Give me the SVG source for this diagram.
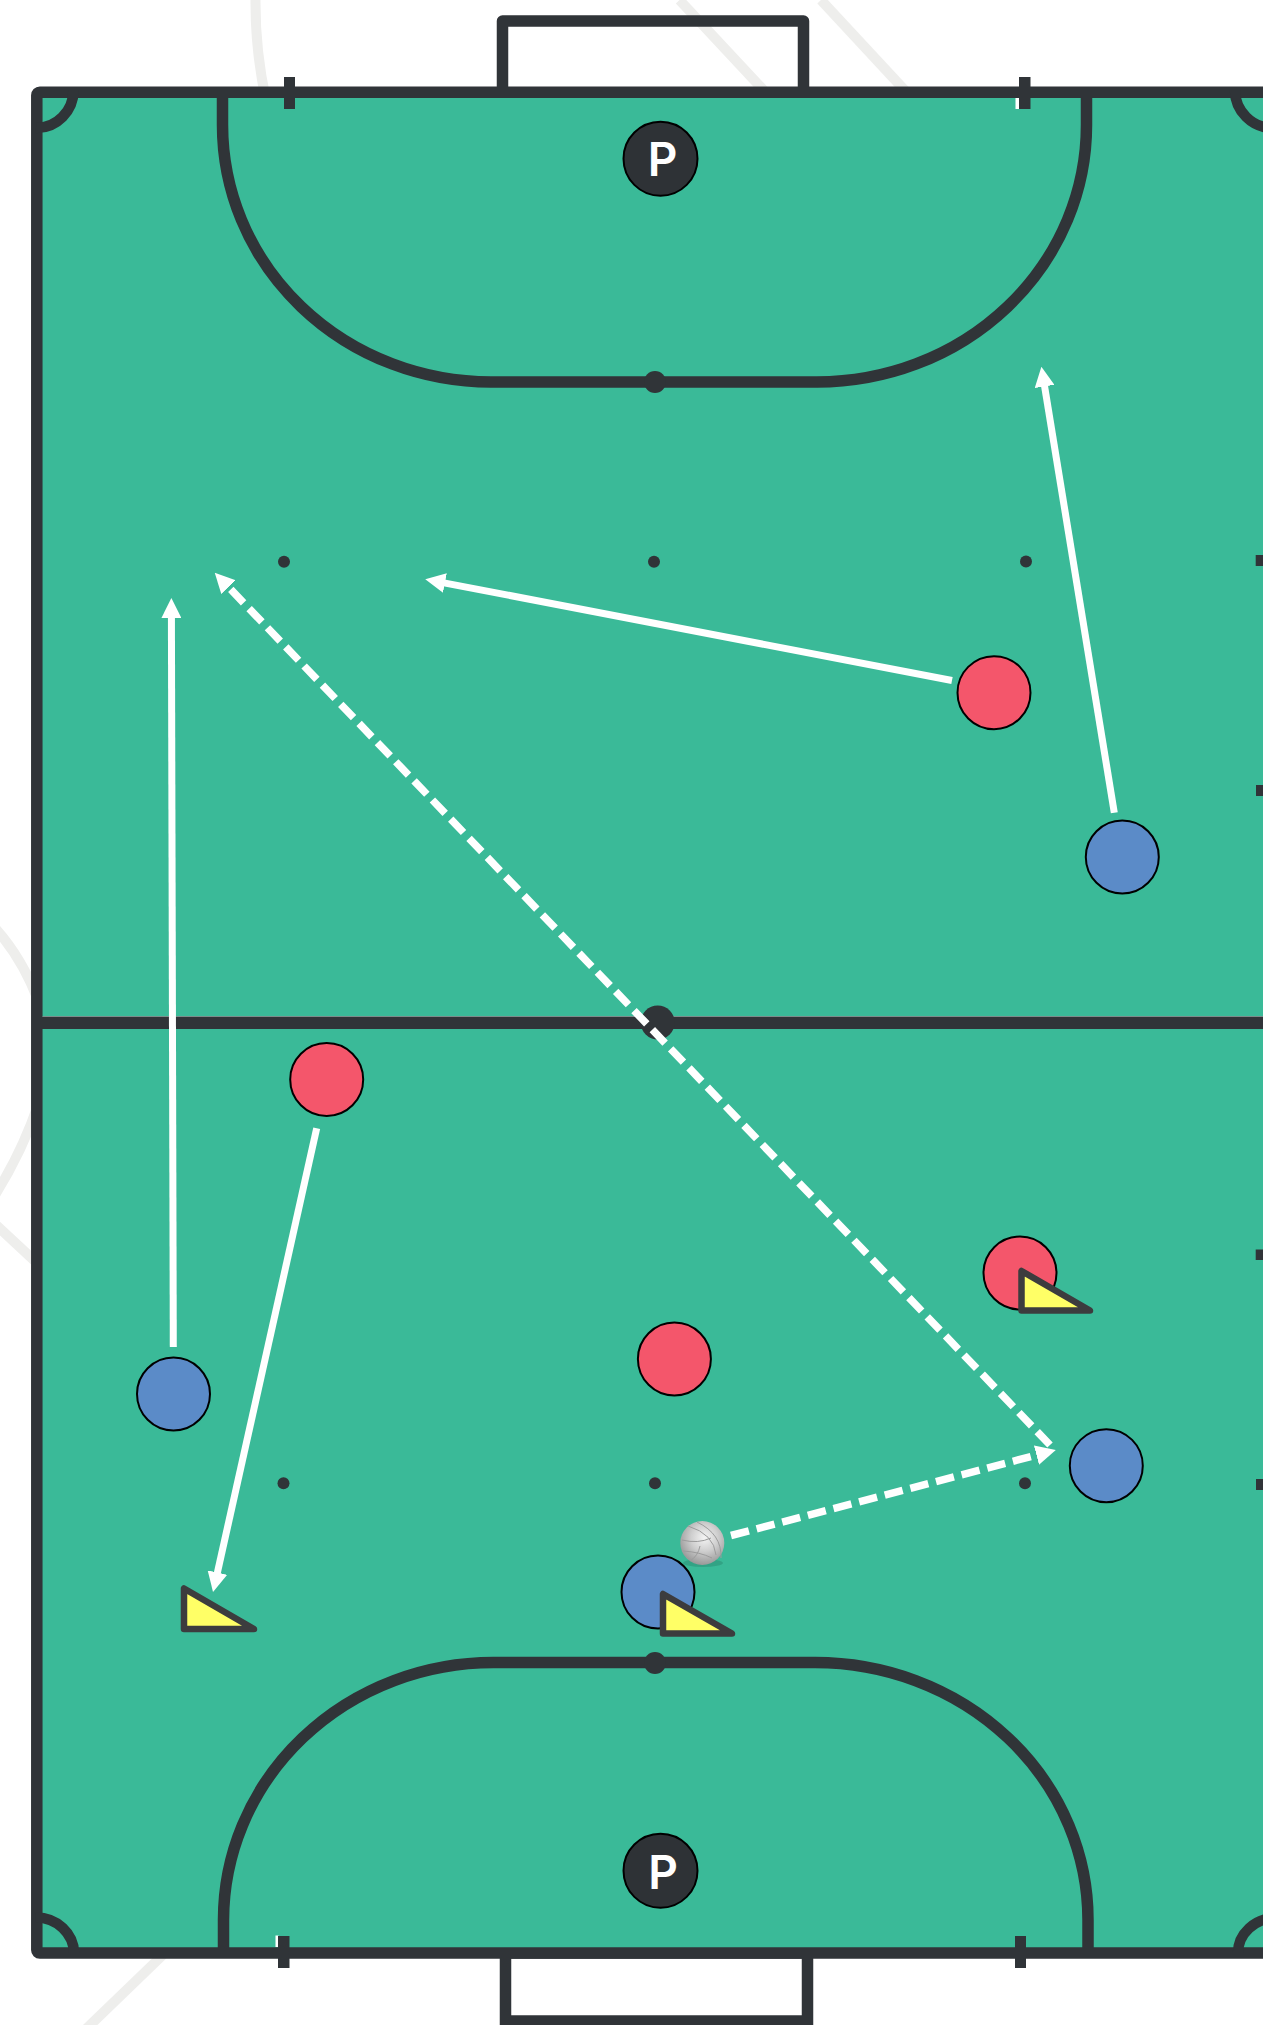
<svg xmlns="http://www.w3.org/2000/svg" width="1263" height="2025" viewBox="0 0 1263 2025">
<style>
.wm{fill:none;stroke:#eeeeec;stroke-width:10}
.ln{fill:none;stroke:#303438;stroke-width:11.5}
.mid{fill:none;stroke:#303438;stroke-width:12.5}
.arc{fill:none;stroke:#303438;stroke-width:10.5}
.dk{fill:#303438}
.red{fill:#f4566b;stroke:#000;stroke-width:2}
.blue{fill:#5b8bc8;stroke:#000;stroke-width:2}
.pc{fill:#2e3236;stroke:#000;stroke-width:2}
.pt{fill:#fff;font-family:Inter,"Noto Sans",sans-serif;font-weight:600;font-size:46px;text-anchor:middle}
.tri{fill:#ffff66;stroke:#3c3c3e;stroke-width:6.5;stroke-linejoin:round}
.mv{fill:none;stroke:#fff;stroke-width:7}
.ds{fill:none;stroke:#fff;stroke-width:7.5;stroke-dasharray:18.5 8}
.bl{fill:none;stroke:#9c9c9c;stroke-width:1}
</style>
<defs>
<marker id="head" viewBox="0 0 20 20" refX="5" refY="10" markerWidth="20" markerHeight="20" markerUnits="userSpaceOnUse" orient="auto"><path d="M0 0L20 10L0 20Z" fill="#fff"/></marker>
<radialGradient id="ballg" cx="0.55" cy="0.38" r="0.68"><stop offset="0" stop-color="#f4f4f4"/><stop offset="0.45" stop-color="#cfcfcf"/><stop offset="1" stop-color="#8e8e8e"/></radialGradient>
</defs>
<rect width="1263" height="2025" fill="#fff"/>
<g id="watermark">
<path class="wm" d="M255.5-2Q255 50 266 100"/>
<path class="wm" d="M679.5 0L770 97"/>
<path class="wm" d="M821 0L911 97"/>
<path class="wm" d="M-5 928Q22 958 38 1000"/>
<path class="wm" d="M38 1105Q22 1152-5 1195"/>
<path class="wm" d="M-5 1224L38 1264"/>
<path class="wm" d="M170 1948L85 2030"/>
</g>
<g id="goal-top"><path class="ln" d="M502.5 92V21H803.5V92" stroke-linejoin="round"/></g>
<g id="goal-bottom"><rect x="505.5" y="1953" width="302" height="68" class="ln"/></g>
<g id="pitch">
<rect x="36.8" y="92.3" width="1240" height="1860.7" rx="3" fill="#3aba98" stroke="#303438" stroke-width="11.5"/>
<rect x="42.5" y="1016" width="1221" height="1" fill="#c4e9df"/>
<path class="mid" d="M37 1022.7H1263"/>
<path class="ln" d="M222.5 92V125A268.5 257 0 0 0 491 382H817A269.5 257 0 0 0 1086.5 125V92"/>
<path class="ln" d="M223.5 1953V1920A270 257.5 0 0 1 493.5 1662.5H815A273 257.5 0 0 1 1088 1920V1953"/>
<path class="arc" d="M73.5 90A37 38 0 0 1 36 128"/>
<path class="arc" d="M1235 90A38 38 0 0 0 1273 128"/>
<path class="arc" d="M36 1917.5A38 36 0 0 1 74 1953"/>
<path class="arc" d="M1238 1953A38 35 0 0 1 1276 1918"/>
<rect x="1015.5" y="98" width="4" height="11" fill="#fff"/>
<rect x="275.5" y="1935.5" width="3" height="11.5" fill="#fff"/>
<rect class="dk" x="284" y="77" width="11" height="32"/>
<rect class="dk" x="1019" y="77" width="11.5" height="32"/>
<rect class="dk" x="278" y="1936" width="11.5" height="32"/>
<rect class="dk" x="1015" y="1936" width="11" height="32"/>
<circle class="dk" cx="284" cy="561.7" r="6"/>
<circle class="dk" cx="654" cy="561.7" r="6"/>
<circle class="dk" cx="1026" cy="561.5" r="6"/>
<circle class="dk" cx="283.5" cy="1483.3" r="6"/>
<circle class="dk" cx="655" cy="1483.3" r="6"/>
<circle class="dk" cx="1025" cy="1483.3" r="6"/>
<rect class="dk" x="1255.7" y="555" width="8" height="11"/>
<rect class="dk" x="1256" y="785" width="8" height="11"/>
<rect class="dk" x="1255.7" y="1249.5" width="8" height="10.5"/>
<rect class="dk" x="1256" y="1479" width="8" height="11"/>
<circle class="dk" cx="655" cy="382" r="11"/>
<circle class="dk" cx="655" cy="1663" r="11"/>
<circle class="dk" cx="657.7" cy="1022.5" r="17"/>
</g>
<g id="keeper-top"><circle class="pc" cx="660.5" cy="158.7" r="37"/><text class="pt" x="662.5" y="176">P</text></g>
<g id="keeper-bottom"><circle class="pc" cx="660.5" cy="1870.7" r="37"/><text class="pt" x="663" y="1889">P</text></g>
<g id="connectors">
<path class="mv" marker-end="url(#head)" d="M173.3 1347L171.4 613"/>
<path class="mv" marker-end="url(#head)" d="M952 680.5L440 582.1"/>
<path class="mv" marker-end="url(#head)" d="M1114.3 812.7L1043.8 381.5"/>
<path class="mv" marker-end="url(#head)" d="M316.7 1128.3L216.3 1577.4"/>
<path class="ds" marker-end="url(#head)" d="M1050 1445L225.1 583.5"/>
<path class="ds" marker-end="url(#head)" d="M731 1535.5L1041.3 1453.8"/>
</g>
<g id="player-red-1"><circle class="red" cx="994" cy="692.7" r="36.5"/></g>
<g id="player-blue-1"><circle class="blue" cx="1122.3" cy="857" r="36.5"/></g>
<g id="player-red-2"><circle class="red" cx="326.7" cy="1079.5" r="36.5"/></g>
<g id="player-blue-2"><circle class="blue" cx="173.5" cy="1394" r="36.5"/></g>
<g id="player-red-3"><circle class="red" cx="674.4" cy="1359" r="36.5"/></g>
<g id="player-red-4"><circle class="red" cx="1020" cy="1273" r="36.5"/></g>
<g id="player-blue-3"><circle class="blue" cx="1106.3" cy="1465.7" r="36.5"/></g>
<g id="player-blue-4"><circle class="blue" cx="658" cy="1592" r="36.5"/></g>
<g id="cone-1"><path class="tri" d="M1021.5 1271V1310.5H1090Z"/></g>
<g id="cone-2"><path class="tri" d="M663 1594V1633.5H732Z"/></g>
<g id="cone-3"><path class="tri" d="M184 1588.5V1629H254Z"/></g>
<g id="ball">
<ellipse cx="703" cy="1563" rx="20" ry="4" fill="#2f9a7e" opacity="0.7"/>
<circle cx="702.3" cy="1543" r="22" fill="url(#ballg)"/>
<path class="bl" d="M697 1522Q722 1534 721 1558M688 1526Q714 1534 716 1555M682 1540Q698 1544 711 1538M683 1551Q700 1552 712 1558M690 1561Q698 1556 700 1546"/>
</g>
</svg>
